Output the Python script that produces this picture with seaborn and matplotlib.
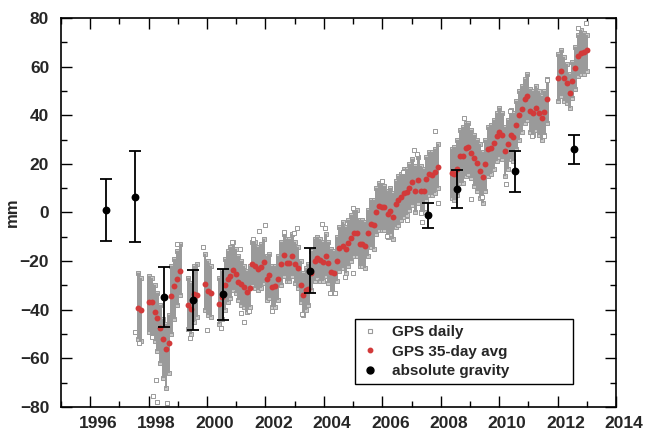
"""
GPS vertical position vs absolute gravity, 1996-2013.
Recreated with seaborn / matplotlib.
"""
import numpy as np
import pandas as pd
import matplotlib
matplotlib.use('Agg')
import matplotlib.pyplot as plt
from matplotlib.lines import Line2D
from matplotlib.transforms import ScaledTranslation
import seaborn as sns

# GPS 35-day averages (year, mm)
avg_year = [
    1997.65, 1997.73,
    1998.01, 1998.10, 1998.21, 1998.30, 1998.39, 1998.50, 1998.59, 1998.70,
    1998.78, 1998.87, 1998.98, 1999.08,
    1999.36, 1999.44, 1999.55, 1999.65,
    1999.93, 2000.02, 2000.13,
    2000.41, 2000.51, 2000.62, 2000.71, 2000.79, 2000.90, 2000.99, 2001.07,
    2001.16, 2001.27, 2001.36, 2001.47, 2001.55, 2001.64, 2001.74, 2001.84,
    2001.95, 2002.05, 2002.13, 2002.22, 2002.31, 2002.42, 2002.53, 2002.64,
    2002.74, 2002.82, 2002.92, 2003.01, 2003.11, 2003.21, 2003.30, 2003.39,
    2003.47, 2003.57, 2003.68, 2003.77, 2003.87, 2003.96, 2004.07, 2004.15,
    2004.25, 2004.35, 2004.44, 2004.53, 2004.65, 2004.75, 2004.84, 2004.93,
    2005.03, 2005.13, 2005.22, 2005.30, 2005.41, 2005.50, 2005.61, 2005.70,
    2005.79, 2005.89, 2005.98, 2006.07, 2006.18, 2006.27, 2006.36, 2006.46,
    2006.55, 2006.64, 2006.75, 2006.84, 2006.93, 2007.03, 2007.13, 2007.23,
    2007.32, 2007.41, 2007.51, 2007.60, 2007.70, 2007.80, 2007.89,
    2008.38, 2008.47, 2008.57, 2008.66, 2008.76, 2008.85, 2008.95, 2009.04,
    2009.14, 2009.25, 2009.34, 2009.43, 2009.53, 2009.62, 2009.72, 2009.82,
    2009.91, 2010.00, 2010.10, 2010.20, 2010.30, 2010.39, 2010.49, 2010.58,
    2010.68, 2010.78, 2010.87, 2010.97, 2011.06, 2011.15, 2011.26, 2011.35,
    2011.45, 2011.54, 2011.64,
    2012.02, 2012.12, 2012.22, 2012.31, 2012.41, 2012.50, 2012.60, 2012.70,
    2012.80, 2012.89, 2013.00,
]
avg_mm = [
    -39.4, -40.1,
    -36.9, -36.7, -40.8, -43.3, -47.4, -52.2, -56.3, -53.8,
    -34.3, -30.2, -27.2, -23.9,
    -38.0, -39.7, -33.5, -33.8,
    -29.5, -32.3, -33.0,
    -37.8, -34.9, -29.8, -27.5, -26.1, -23.7, -25.3, -28.5,
    -29.5, -30.8, -32.8, -30.9, -21.2, -22.0, -23.4, -22.5,
    -20.5, -27.2, -25.8, -30.5, -30.1, -27.5, -21.2, -17.5,
    -20.7, -20.7, -17.9, -21.2, -22.7, -29.7, -34.1, -31.9,
    -31.5, -25.0, -20.0, -18.6, -19.5, -20.2, -17.9, -20.9,
    -24.4, -25.0, -19.8, -14.7, -13.7, -15.1, -12.7, -10.4,
    -8.6, -8.3, -13.0, -13.0, -13.7, -8.3, -4.7, -5.3,
    0.3, 2.7, 2.4, 2.3, -0.6, 0.7, -1.7, 3.5,
    5.1, 6.3, 7.9, 8.3, 10.1, 12.7, 9.0, 13.4,
    9.0, 9.0, 13.8, 15.8, 15.4, 16.8, 18.6,
    16.1, 15.8, 18.0, 23.2, 23.2, 26.4, 27.1, 24.4,
    22.3, 20.5, 17.2, 14.7, 19.8, 26.0, 26.4, 28.5,
    31.5, 33.1, 31.9, 25.4, 28.1, 31.9, 31.2, 36.0,
    40.1, 42.5, 46.6, 48.0, 41.9, 40.8, 42.9, 40.8,
    38.7, 41.5, 46.7,
    55.4, 58.3, 55.4, 53.1, 49.3, 54.1, 59.6, 64.4,
    65.5, 65.9, 66.8,
]

# spread of the GPS daily cloud in each 35-day window (low / high, mm)
daily_lo = [
    -52, -53,
    -49, -51, -53, -57, -62, -68, -72, -66,
    -50, -44, -38, -34,
    -48, -50, -45, -43,
    -40, -42, -43,
    -46, -44, -40, -37, -35, -32, -33, -36,
    -38, -39, -41, -39, -30, -31, -32, -31,
    -29, -36, -35, -39, -39, -36, -30, -26,
    -28, -28, -26, -29, -31, -37, -42, -40,
    -38, -32, -28, -27, -28, -28, -26, -29,
    -33, -33, -28, -24, -23, -25, -22, -20,
    -18, -18, -22, -22, -23, -18, -14, -15,
    -9, -7, -7, -7, -10, -9, -11, -6,
    -5, -3, -2, -1, 1, 3, 0, 4,
    0, 0, 5, 7, 7, 8, 10,
    6, 5, 7, 12, 12, 15, 16, 14,
    11, 9, 6, 4, 9, 15, 16, 18,
    21, 23, 22, 15, 18, 22, 21, 26,
    30, 33, 37, 38, 33, 32, 34, 32,
    30, 32, 37,
    46, 48, 46, 45, 43, 47, 51, 56,
    57, 57, 58,
]
daily_hi = [
    -25, -27,
    -26, -27, -30, -33, -38, -44, -46, -42,
    -22, -19, -16, -13,
    -27, -29, -22, -21,
    -17, -20, -22,
    -27, -24, -19, -16, -14, -12, -15, -18,
    -20, -22, -24, -22, -12, -12, -14, -13,
    -11, -18, -17, -22, -22, -18, -12, -9,
    -11, -11, -9, -12, -14, -20, -25, -23,
    -21, -16, -11, -10, -11, -12, -9, -12,
    -15, -16, -10, -6, -4, -6, -3, -1,
    1, 1, -3, -3, -4, 1, 5, 5,
    10, 12, 12, 11, 9, 10, 8, 13,
    15, 16, 18, 18, 20, 22, 19, 23,
    19, 18, 23, 25, 25, 26, 28,
    26, 27, 30, 34, 35, 37, 37, 34,
    32, 30, 28, 25, 30, 35, 36, 38,
    41, 43, 41, 35, 38, 42, 41, 46,
    50, 52, 55, 57, 51, 50, 52, 50,
    48, 50, 55,
    65, 67, 64, 61, 57, 62, 68, 73,
    75, 74, 73,
]

# scattered daily values lying outside the dense cloud
out_year = [1997.55, 1997.67, 1998.10, 1998.16, 1998.25, 1998.28, 1998.62,
            1998.98, 1999.42, 1999.87, 2000.01, 2000.48, 2000.87, 2001.13,
            2001.16, 2001.28, 2001.44, 2001.59, 2001.79, 2001.99, 2002.22,
            2002.65, 2002.96, 2003.09, 2003.26, 2003.95, 2004.04, 2004.21,
            2004.38, 2004.73, 2004.99, 2004.99, 2006.00, 2006.15, 2006.72,
            2006.84, 2007.07, 2007.20, 2007.33, 2007.35, 2007.81, 2007.92,
            2008.78, 2009.04, 2009.41, 2010.22, 2010.38, 2011.12, 2011.54,
            2011.63, 2012.69, 2012.97]
out_mm = [-49.0, -53.8, -51.3, -75.4, -68.9, -77.8, -78.2,
          -13.1, -51.5, -14.3, -48.3, -47.4, -12.3, -15.1,
          -41.5, -45.2, -40.4, -10.9, -7.6, -5.1, -40.4,
          -7.9, -8.3, -6.5, -41.8, -4.9, -6.2, -33.2,
          -33.0, -26.4, 1.7, -25.0, 13.0, -9.7, 16.8,
          -3.1, 25.7, 24.1, -0.3, -4.0, 33.5, 4.0,
          38.8, 5.4, 6.5, 11.6, 41.8, 31.5, 31.5,
          54.5, 75.8, 78.1]

# absolute gravity (converted to mm) with error bars
ag_year = [1996.53, 1997.53, 1998.53, 1999.53, 2000.54,
           2003.54, 2007.56, 2008.55, 2010.55, 2012.56]
ag_mm = [1.0, 6.5, -34.8, -35.9, -33.7, -23.9, -1.2, 9.7, 16.9, 26.0]
ag_err = [12.7, 18.8, 12.3, 12.3, 10.5, 9.3, 5.3, 7.7, 8.6, 6.0]

GRAY = '#9a9a9a'
RED = '#d23a3a'

sns.set_style('ticks')
plt.rcParams['font.family'] = ['Liberation Sans', 'DejaVu Sans']
plt.rcParams['font.weight'] = 'bold'

avg = pd.DataFrame({'year': avg_year, 'mm': avg_mm,
                    'lo': daily_lo, 'hi': daily_hi})
outl = pd.DataFrame({'year': out_year, 'mm': out_mm})
grav = pd.DataFrame({'year': ag_year, 'mm': ag_mm, 'err': ag_err})

# split the record where the station had data gaps
avg['segment'] = (avg['year'].diff() > 0.2).cumsum()

fig = plt.figure(figsize=(6.47, 4.33), dpi=100)
ax = fig.add_axes([61 / 647, 1 - 407 / 433, 555 / 647, 389 / 433])

# GPS daily: dense cloud per 35-day window, open squares on its ragged edges
edges = pd.concat([
    pd.DataFrame({'year': avg['year'], 'mm': avg['lo']}),
    pd.DataFrame({'year': avg['year'], 'mm': avg['hi']}),
])
sns.scatterplot(data=edges, x='year', y='mm', ax=ax, marker='s', s=8,
                facecolor='#c8c8c8', edgecolor=GRAY, linewidth=0.7,
                zorder=0.5, legend=False)
for seg, part in avg.groupby('segment'):
    ax.fill_between(part['year'], part['lo'], part['hi'], step='mid',
                    color=GRAY, linewidth=0, zorder=1)
    # half a window on each end so short segments keep their width
    ax.bar(part['year'].iloc[[0, -1]], (part['hi'] - part['lo']).iloc[[0, -1]],
           bottom=part['lo'].iloc[[0, -1]], width=0.1, color=GRAY,
           linewidth=0, zorder=1)
sns.scatterplot(data=outl, x='year', y='mm', ax=ax, marker='s', s=6,
                facecolor='white', edgecolor=GRAY, linewidth=0.7, zorder=2,
                legend=False)

# GPS 35-day average
sns.scatterplot(data=avg, x='year', y='mm', ax=ax, color=RED, s=18,
                linewidth=0, zorder=3, legend=False)

# absolute gravity
ax.errorbar(grav['year'], grav['mm'], yerr=grav['err'], fmt='none',
            ecolor='black', elinewidth=1.3, capsize=4.5, capthick=1.3,
            zorder=4)
sns.scatterplot(data=grav, x='year', y='mm', ax=ax, color='black', s=32,
                linewidth=0, zorder=5, legend=False)

ax.set_xlim(1995, 2014)
ax.set_ylim(-80, 80)
ax.set_xticks(np.arange(1996, 2015, 2))
ax.set_xticks(np.arange(1995, 2014, 1), minor=True)
ax.set_yticks(np.arange(-80, 81, 20))
ax.set_yticks(np.arange(-70, 80, 20), minor=True)
ax.tick_params(which='both', direction='in', top=True, right=True,
               width=1.0, color='black')
ax.tick_params(which='major', length=8)
ax.tick_params(which='minor', length=4)
ax.tick_params(axis='x', pad=6.5, labelsize=12.5)
ax.tick_params(axis='y', pad=8.5, labelsize=12.5)
for lab in ax.get_xticklabels():
    lab.set_fontweight('bold')
    lab.set_transform(lab.get_transform() +
                      ScaledTranslation(8 / 100, 0, fig.dpi_scale_trans))
for lab in ax.get_yticklabels():
    lab.set_fontweight('bold')
for sp in ax.spines.values():
    sp.set_linewidth(1.2)
    sp.set_color('black')

ax.set_xlabel('')
ax.set_ylabel('mm', fontsize=12, fontweight='bold')
ax.yaxis.set_label_coords(-0.074, 0.5)

handles = [
    Line2D([], [], ls='none', marker='s', ms=2.5, mfc='white', mec=GRAY,
           mew=0.8),
    Line2D([], [], ls='none', marker='o', ms=3.2, mfc=RED, mec=RED),
    Line2D([], [], ls='none', marker='o', ms=5, mfc='black', mec='black'),
]
labels = ['GPS daily', 'GPS 35-day avg', 'absolute gravity']
leg = ax.legend(handles, labels, loc='lower left',
                bbox_to_anchor=(0.530, 0.059, 0.393, 0.167), mode='expand',
                borderaxespad=0, frameon=True, fancybox=False, shadow=False,
                borderpad=0.4, handlelength=1.2, handletextpad=0.8,
                labelspacing=0.35, prop={'size': 11, 'weight': 'bold'})
leg.get_frame().set_edgecolor('black')
leg.get_frame().set_linewidth(1.0)
leg.get_frame().set_alpha(1)

fig.savefig('out.png', dpi=100)
